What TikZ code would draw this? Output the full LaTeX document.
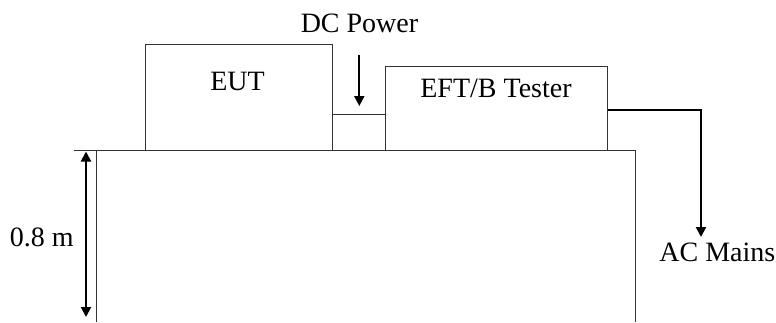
\documentclass[tikz,border=0pt]{standalone}
\usepackage{fontspec}
\setmainfont{Liberation Serif}
\usetikzlibrary{arrows.meta}
\begin{document}
\begin{tikzpicture}[x=1pt,y=-1pt,
  thinline/.style={draw=black!80,line width=0.9pt},
  tip/.tip={Triangle[length=10pt,width=10pt]},
  thickarrow/.style={draw=black,line width=2pt,-tip},
  boxstyle/.style={thinline,rectangle,inner sep=0pt,anchor=north west},
  lbl/.style={font=\fontsize{28}{32}\selectfont,inner sep=0pt}]
\useasboundingbox (0,0) rectangle (776,322);
% table
\coordinate (ttl) at (74,150.7);
\coordinate (tl) at (96,150.7);
\coordinate (tr) at (635,150.7);
\coordinate (bl) at (96,322);
\coordinate (br) at (635,322);
\draw[thinline] (ttl) -- (tr) -- (br);
\draw[thinline] (tl) -- (bl);
% boxes
\node[boxstyle,minimum width=187pt,minimum height=106pt] (eut) at (145,44) {};
\node[boxstyle,minimum width=222pt,minimum height=84pt] (eft) at (385,66) {};
\node[lbl] (eutl) at (237.5,81) {EUT};
\node[lbl] (eftl) at (496,88) {EFT/B Tester};
% connection between boxes
\draw[thinline] (eut.east |- 0,114) -- (eft.west |- 0,114);
% DC power
\node[lbl] (dc) at (359.5,23.5) {DC Power};
\coordinate (dctop) at (359.3,55);
\coordinate (dcend) at (359.3,106);
\draw[thickarrow] (dctop) -- (dcend);
% AC mains
\node[lbl,anchor=east] (ac) at (775.5,252) {AC Mains};
\draw[thickarrow] (eft.east |- 0,110) -| (701,237);
% height
\node[lbl] (h) at (41.7,237) {0.8 m};
\coordinate (ha) at (86,151.5);
\coordinate (hb) at (86,317);
\draw[line width=2pt,tip-tip] (ha) -- (hb);
\end{tikzpicture}
\end{document}
